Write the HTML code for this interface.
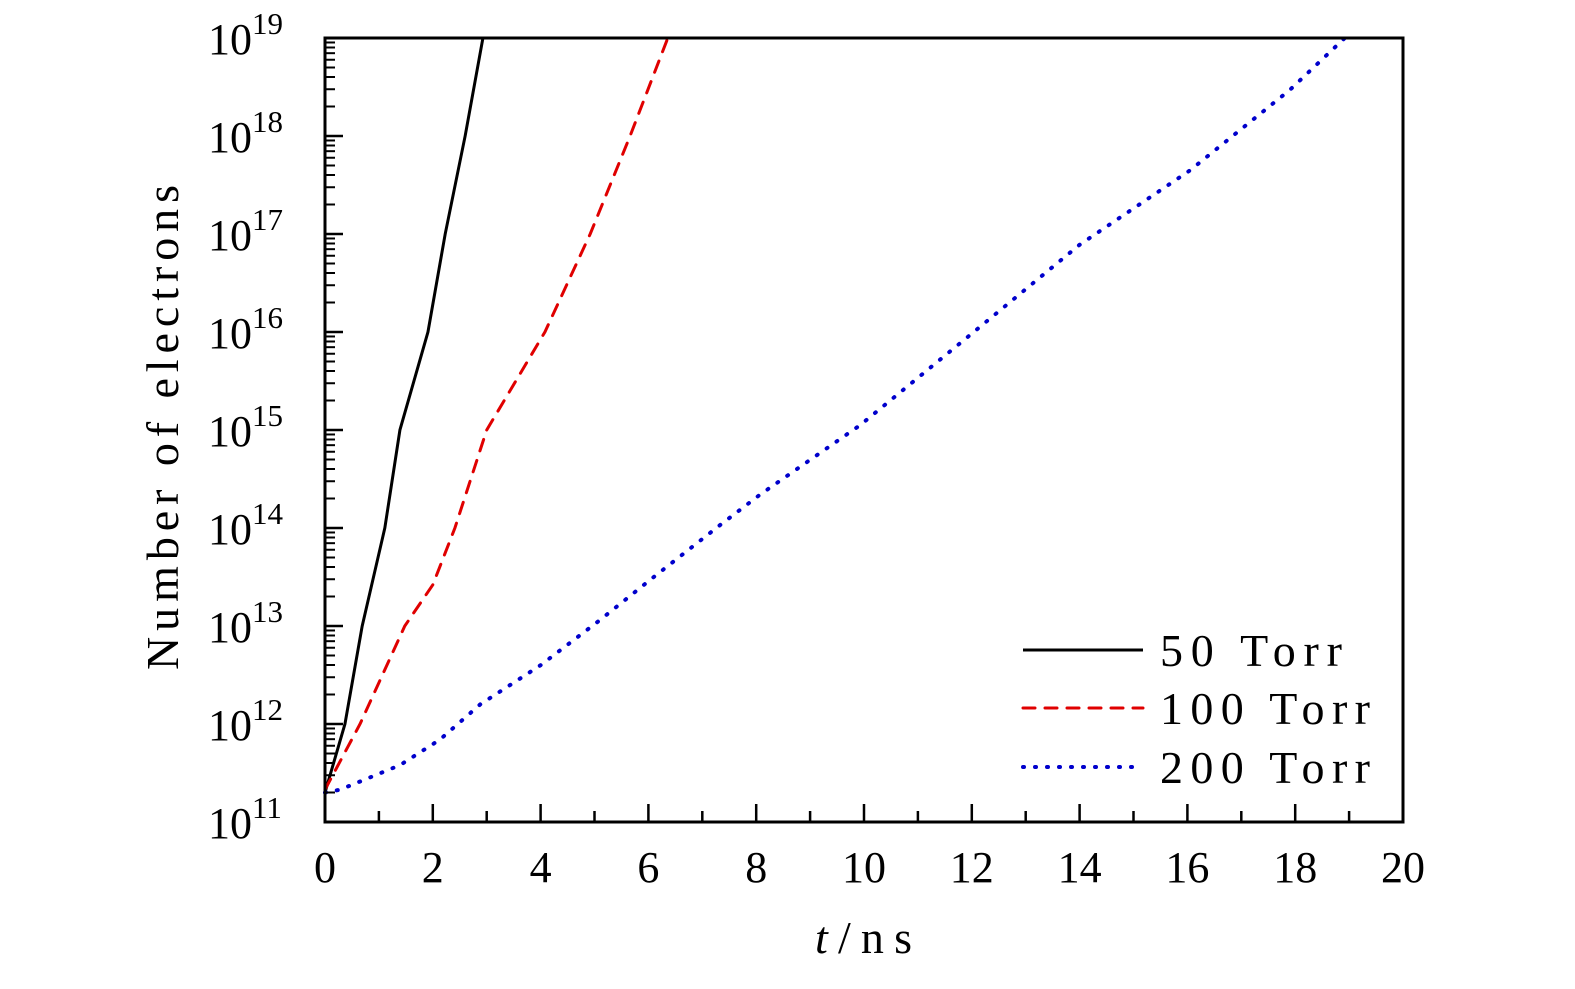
<!DOCTYPE html>
<html><head><meta charset="utf-8"><style>
body{margin:0;background:#fff}
svg text{font-family:"Liberation Serif",serif;fill:#000}
</style></head><body>
<svg width="1575" height="984">
<g id="plot"></g>
</svg>
<script>
const tBlack=[0,0.37,0.69,1.11,1.39,1.91,2.23,2.6,2.93];
const nBlack=[11.3,12,13,14,15,16,17,18,19];
const tRed=[0,0.65,1.48,2.0,2.41,3.0,4.08,4.92,5.66,6.36];
const nRed=[11.33,12,13,13.42,14,15,16,17,18,19];
const tBlue=[0,0.28,1.39,2.13,2.88,4,5.1,6.03,7.33,8.07,9.93,11.97,14,16.05,17.9,18.92];
const nBlue=[11.3,11.33,11.58,11.84,12.2,12.6,13.06,13.47,14.03,14.34,15.05,15.97,16.89,17.65,18.47,19];
const xTicks=[0,2,4,6,8,10,12,14,16,18,20];
const yTicks=[11,12,13,14,15,16,17,18,19];
const X0=325,X1=1403,Y0=822,Y1=38;
const xs=t=>X0+(X1-X0)*t/20;
const ys=l=>Y0-(Y0-Y1)*(l-11)/8;
const NS="http://www.w3.org/2000/svg";
const g=document.getElementById('plot');
function mk(tag,attrs,parent){const e=document.createElementNS(NS,tag);for(const k in attrs)e.setAttribute(k,attrs[k]);(parent||g).appendChild(e);return e;}
function series(ts,ns,color,dash,w,name){
 const p=mk('polyline',{points:ts.map((t,i)=>xs(t)+','+ys(ns[i])).join(' '),fill:'none',stroke:color,'stroke-width':w,'stroke-dasharray':dash,'stroke-linecap':dash?'round':'butt'});
 
 
}
series(tBlack,nBlack,'#000','',3,'series-50-torr');
series(tRed,nRed,'#e00000','12 10',3,'series-100-torr');
series(tBlue,nBlue,'#0000cc','1 11',4,'series-200-torr');
const fr=mk('rect',{x:X0,y:Y1,width:X1-X0,height:Y0-Y1,fill:'none',stroke:'#000','stroke-width':3});


for(let t=0;t<=20;t++){const major=t%2===0;const l=mk('line',{x1:xs(t),x2:xs(t),y1:Y0,y2:Y0-(major?18:11),stroke:'#000','stroke-width':2.5});

}
xTicks.forEach(t=>{const e=mk('text',{x:xs(t),y:882,'font-size':44,'text-anchor':'middle'});e.textContent=t;

});
yTicks.forEach((d,i)=>{
 const l=mk('line',{x1:X0,x2:X0+18,y1:ys(d),y2:ys(d),stroke:'#000','stroke-width':2.5});
 
 
 if(i<yTicks.length-1){for(let m=2;m<=9;m++){const y=ys(d+Math.log10(m));const ml=mk('line',{x1:X0,x2:X0+10,y1:y,y2:y,stroke:'#000','stroke-width':2});
 
 }}
 const e=mk('text',{x:208,y:ys(d)+16,'font-size':44});
 
 
 e.textContent='10';
 const s=mk('tspan',{dy:-20,'font-size':31},e);s.textContent=d;
});
const leg=[['50 Torr','#000','',3,650,182],['100 Torr','#e00000','12 10',3,708,210],['200 Torr','#0000cc','1 11',4,767,210]];
leg.forEach(r=>{
 const l=mk('line',{x1:1023,x2:1143,y1:r[4],y2:r[4],stroke:r[1],'stroke-width':r[3],'stroke-dasharray':r[2],'stroke-linecap':r[2]?'round':'butt'});
 
 
 const e=mk('text',{x:1160,y:r[4]+16,'font-size':46,textLength:r[5],lengthAdjust:'spacing'});e.textContent=r[0];
 
 
});
const xt=mk('text',{x:815,y:953,'font-size':46,textLength:97,lengthAdjust:'spacing'});


const ti=mk('tspan',{'font-style':'italic'},xt);ti.textContent='t';
const tn=mk('tspan',{},xt);tn.textContent='/ns';
const yt=mk('text',{x:-670,y:0,'font-size':46,transform:'translate(178,0) rotate(-90)',textLength:485,lengthAdjust:'spacing'});
yt.textContent='Number of electrons';


</script>
</body></html>
